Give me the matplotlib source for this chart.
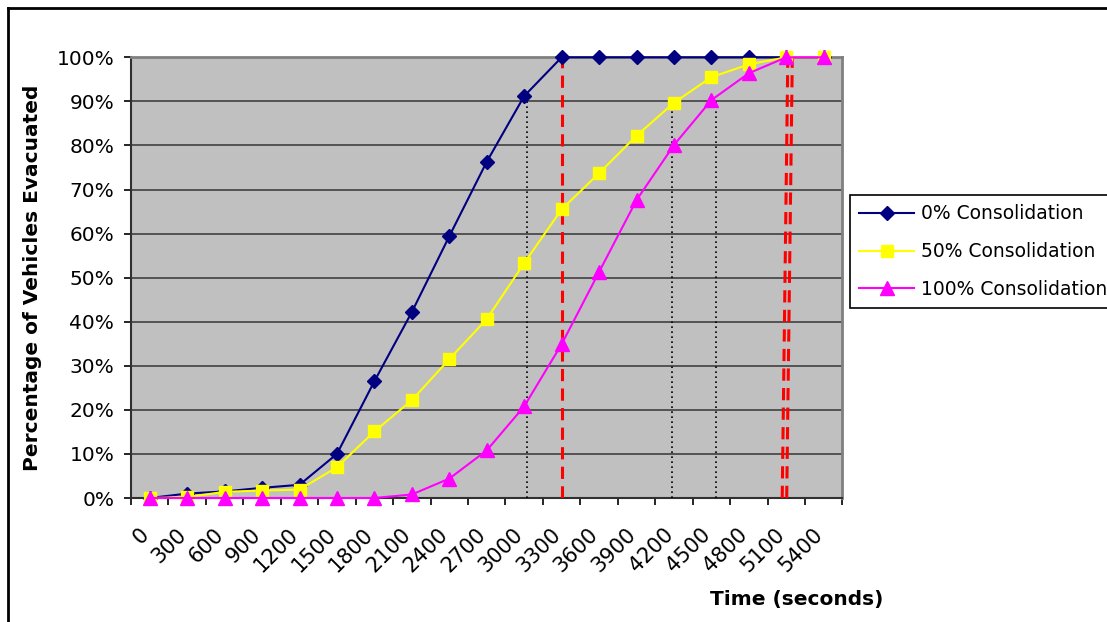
import numpy as np
import matplotlib.pyplot as plt
from matplotlib.lines import Line2D

plt.rcParams['font.family'] = ['DejaVu Sans']

# Data (fraction of vehicles evacuated)
times = [0, 300, 600, 900, 1200, 1500, 1800, 2100, 2400, 2700,
         3000, 3300, 3600, 3900, 4200, 4500, 4800, 5100, 5400]
pct_0 = [0.0, 0.010, 0.015, 0.023, 0.030, 0.100, 0.265, 0.422, 0.594, 0.763,
         0.912, 1.0, 1.0, 1.0, 1.0, 1.0, 1.0, 1.0, 1.0]
pct_50 = [0.0, 0.002, 0.014, 0.017, 0.019, 0.070, 0.151, 0.222, 0.315, 0.406,
          0.533, 0.655, 0.737, 0.822, 0.897, 0.955, 0.984, 1.0, 1.0]
pct_100 = [0.0, 0.0, 0.0, 0.0, 0.0, 0.0, 0.0, 0.008, 0.044, 0.108,
           0.208, 0.349, 0.513, 0.676, 0.801, 0.903, 0.964, 1.0, 1.0]
series_names = ["0% Consolidation", "50% Consolidation", "100% Consolidation"]

# reference lines (x in category units): 90% crossings and clearance times
dotted_x = [10.07, 13.96, 15.12]
dotted_top = [0.90, 0.90, 0.90]
red_bottom_x = [11.0, 16.89, 17.01]
red_top_x = [11.0, 17.04, 17.16]

W, H = 1107, 622
fig = plt.figure(figsize=(W / 100, H / 100), dpi=100)
ax = fig.add_axes([131 / W, 124 / H, 711.5 / W, 440.7 / H])
ax.set_facecolor('#C0C0C0')

x = np.arange(len(times))

ax.plot(x, pct_0, color='#000080', marker='D', ms=7.5, mec='#000080', lw=1.5,
        label=series_names[0], zorder=5, clip_on=False)
ax.plot(x, pct_50, color='#FFFF00', marker='s', ms=8.5, mec='#FFFF00', lw=1.5,
        label=series_names[1], zorder=6, clip_on=False)
ax.plot(x, pct_100, color='#FF00FF', marker='^', ms=10, mec='#FF00FF', lw=1.5,
        label=series_names[2], zorder=7, clip_on=False)

for xv, top in zip(dotted_x, dotted_top):
    ax.plot([xv, xv], [0, top], color='black', lw=1.2, ls=(0, (1, 2)), zorder=3)
for xb, xt in zip(red_bottom_x, red_top_x):
    ax.plot([xb, xt], [0, 1], color='red', lw=2.2, ls=(0, (4, 2.4)), zorder=3)

ax.set_xlim(-0.5, len(times) - 0.5)
ax.set_ylim(0, 1)

# y axis
yt = np.linspace(0, 1, 11)
ax.set_yticks(yt)
ax.set_yticklabels([f"{int(round(v * 100))}%" for v in yt], fontsize=14.5)
ax.grid(axis='y', color='#404040', lw=1.2, zorder=1)
ax.set_axisbelow(True)

# x axis: ticks between categories, labels at category centres
ax.set_xticks(np.arange(-0.5, len(times), 1))
ax.set_xticklabels([])
ax.set_xticks(x, minor=True)
ax.set_xticklabels([str(t) for t in times], minor=True, rotation=45,
                   ha='right', va='baseline', rotation_mode='anchor', fontsize=15)
ax.tick_params(axis='x', which='minor', length=0, pad=27)
ax.tick_params(axis='both', which='major', length=5, width=1.2, color='black')
ax.tick_params(axis='y', pad=7)

for side in ['left', 'bottom']:
    ax.spines[side].set_color('#303030')
    ax.spines[side].set_linewidth(1.5)
for side in ['top', 'right']:
    ax.spines[side].set_color('#808080')
    ax.spines[side].set_linewidth(2)

fig.text(33 / W, 1 - 278 / H, "Percentage of Vehicles Evacuated", rotation=90,
         ha='center', va='center', fontsize=14.5, fontweight='bold')
fig.text(797 / W, 1 - 600 / H, "Time (seconds)", ha='center', va='center',
         fontsize=14.5, fontweight='bold')

leg = fig.legend(loc='upper left', bbox_to_anchor=(850 / W, 1 - 195 / H),
                 frameon=True, fancybox=False, edgecolor='black', framealpha=1,
                 fontsize=13.5, handlelength=2.9, borderpad=0.5,
                 labelspacing=1.0, handletextpad=0.4, borderaxespad=0)
leg.get_frame().set_linewidth(1.2)

# outer chart frame
fig.add_artist(Line2D([8 / W, 1], [1 - 8 / H, 1 - 8 / H], color='black', lw=2))
fig.add_artist(Line2D([8 / W, 8 / W], [0, 1 - 8 / H], color='black', lw=2))

fig.savefig('out.png', dpi=100)
